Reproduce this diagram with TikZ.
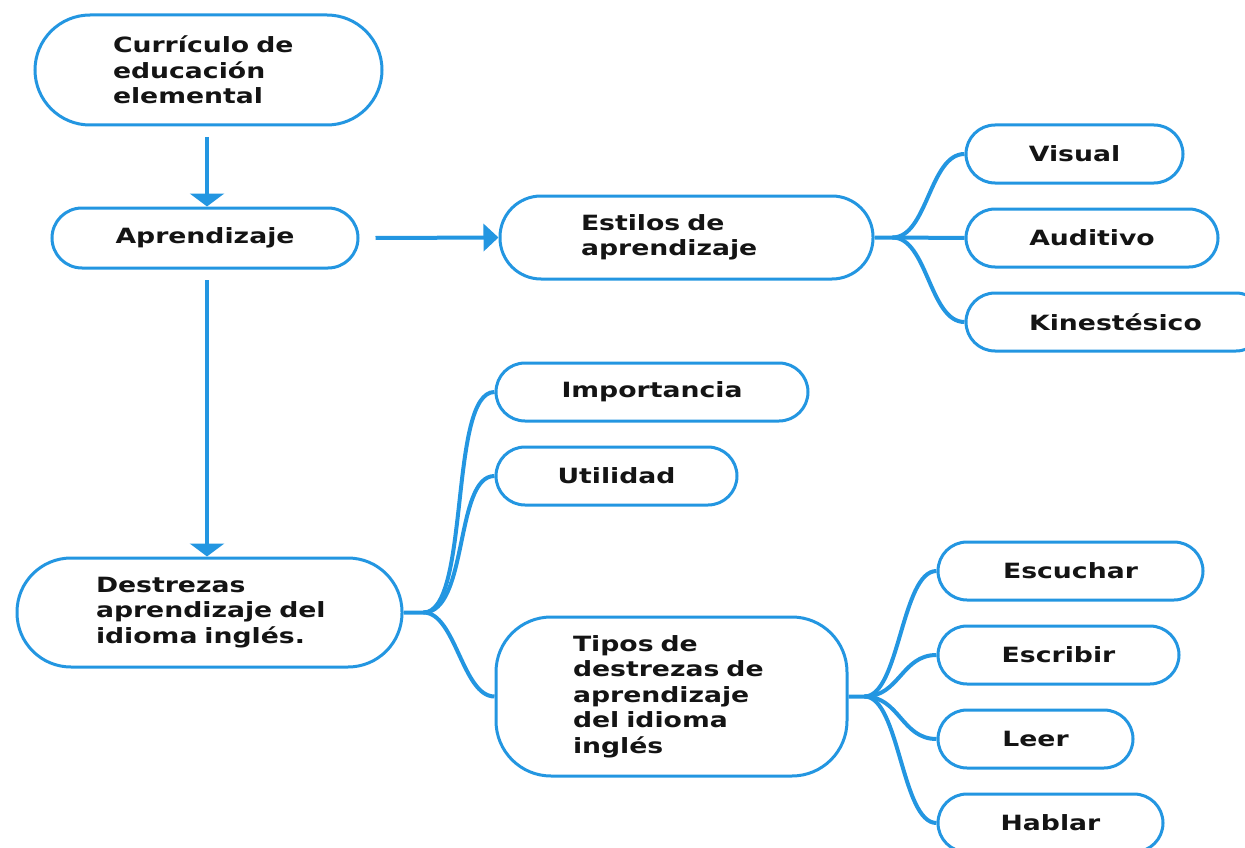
\documentclass[tikz,border=0pt]{standalone}
\usepackage{fontspec}
\setmainfont{DejaVu Sans}[FakeStretch=1.27]
\usetikzlibrary{arrows.meta}
\definecolor{lb}{RGB}{35,150,225}
\definecolor{tx}{RGB}{20,20,20}
\begin{document}
\begin{tikzpicture}[x=1pt,y=-1pt,
  box/.style={draw=lb, line width=3pt, fill=white, rounded corners=29pt,
    minimum height=58pt, inner sep=0pt, text=tx,
    font=\bfseries\fontsize{21}{25.5}\selectfont, align=center},
  bigbox/.style={box, align=left},
  conn/.style={draw=lb, line width=4pt},
  arrv/.style={conn, -{Triangle[width=34pt,length=13pt]}},
  arrh/.style={conn, -{Triangle[width=27pt,length=15pt]}}]
\useasboundingbox (0,0) rectangle (1245,848);

% nodes
\node[bigbox, minimum width=347pt, minimum height=110pt, rounded corners=55pt,
  inner xsep=78pt, text width=191pt] (cur) at (208.5,70)
  {\mbox{Currículo de}\\\mbox{educación}\\\mbox{elemental}};
\node[box, minimum width=306pt, minimum height=60pt, rounded corners=30pt] (apr) at (205,238) {Aprendizaje};
\node[bigbox, minimum width=373pt, minimum height=83pt, rounded corners=41pt,
  inner xsep=81pt, text width=211pt] (est) at (686.5,237.5)
  {\mbox{Estilos de}\\\mbox{aprendizaje}};
\node[box, minimum width=217pt] (vis) at (1074.5,154) {Visual};
\node[box, minimum width=252pt] (aud) at (1092,238) {Auditivo};
\node[box, minimum width=299pt] (kin) at (1115.5,322) {Kinestésico};
\node[box, minimum width=312pt] (imp) at (652,392) {Importancia};
\node[box, minimum width=241pt] (uti) at (616.5,476) {Utilidad};
\node[bigbox, minimum width=385pt, minimum height=109pt, rounded corners=54pt,
  inner xsep=79pt, text width=227pt] (des) at (209.5,612.5)
  {\mbox{Destrezas}\\\mbox{aprendizaje del}\\\mbox{idioma inglés.}};
\node[bigbox, minimum width=351pt, minimum height=159pt, rounded corners=55pt,
  inner xsep=77pt, text width=197pt] (tip) at (671.5,696.5)
  {\mbox{Tipos de}\\\mbox{destrezas de}\\\mbox{aprendizaje}\\\mbox{del idioma}\\\mbox{inglés}};
\node[box, minimum width=265pt] (esc) at (1070.5,571) {Escuchar};
\node[box, minimum width=241pt] (esb) at (1058.5,655) {Escribir};
\node[box, minimum width=195pt] (lee) at (1035.5,739) {Leer};
\node[box, minimum width=225pt] (hab) at (1050.5,823) {Hablar};

% arrows
\coordinate (a1) at (207,137);
\coordinate (a2) at (207,280);
\draw[arrv] (a1) -- (a1 |- apr.north);
\draw[arrv] (a2) -- (a2 |- des.north);
\draw[arrh] ([xshift=16pt]apr.east) -- (est.west);

% branches: estilos
\coordinate (ej) at ([xshift=18pt]est.east);
\draw[conn] (est.east) -- (ej) .. controls +(35,0) and +(-35,0) .. (vis.west);
\draw[conn] (ej) -- (aud.west);
\draw[conn] (ej) .. controls +(35,0) and +(-35,0) .. (kin.west);

% branches: destrezas
\coordinate (dj) at ([xshift=20pt]des.east);
\draw[conn] (des.east) -- (dj) .. controls +(47,0) and +(-46,0) .. (imp.west);
\draw[conn] (dj) .. controls +(45,0) and +(-40,0) .. (uti.west);
\draw[conn] (dj) .. controls +(32,0) and +(-32,0) .. (tip.west);

% branches: tipos
\coordinate (tj) at ([xshift=16pt]tip.east);
\draw[conn] (tip.east) -- (tj) .. controls +(35,0) and +(-35,0) .. (esc.west);
\draw[conn] (tj) .. controls +(35,0) and +(-35,0) .. (esb.west);
\draw[conn] (tj) .. controls +(35,0) and +(-35,0) .. (lee.west);
\draw[conn] (tj) .. controls +(35,0) and +(-35,0) .. (hab.west);
\end{tikzpicture}
\end{document}
